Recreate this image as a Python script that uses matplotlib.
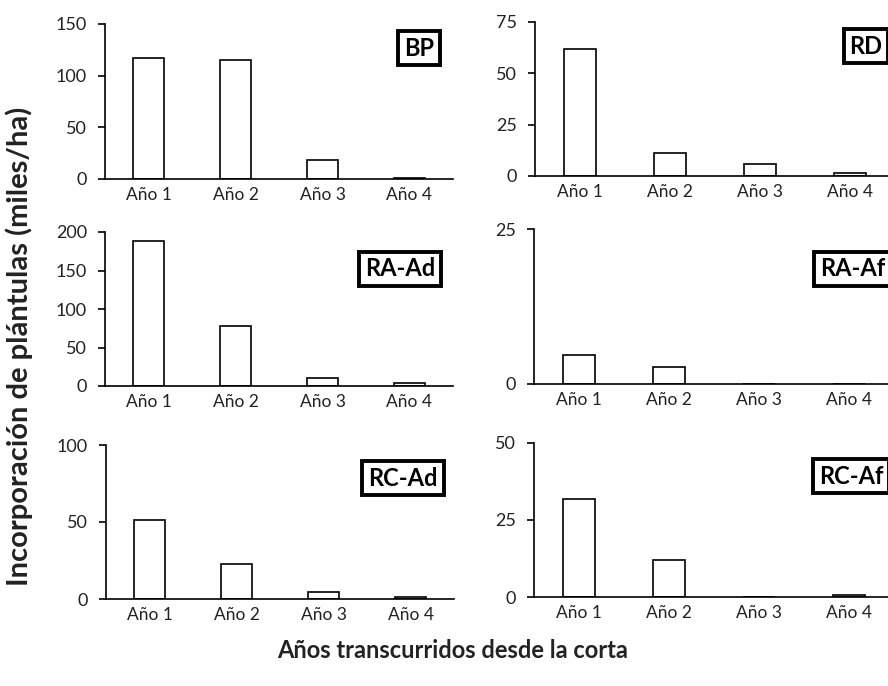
import matplotlib.pyplot as plt

plt.rcParams['font.family'] = ['Lato', 'DejaVu Sans']

years = ['Año 1', 'Año 2', 'Año 3', 'Año 4']

bp = [116.8, 115.5, 18.1, 1.0]
rd = [62.0, 11.3, 5.8, 1.6]
ra_ad = [188.0, 77.7, 10.8, 3.5]
ra_af = [4.7, 2.7, 0.0, 0.0]
rc_ad = [51.3, 22.8, 4.3, 1.0]
rc_af = [31.7, 12.1, 0.0, 0.75]

# panel name, values, y max, y ticks
panels = [
    ('BP', bp, 150, [0, 50, 100, 150]),
    ('RD', rd, 75, [0, 25, 50, 75]),
    ('RA-Ad', ra_ad, 200, [0, 50, 100, 150, 200]),
    ('RA-Af', ra_af, 25, [0, 25]),
    ('RC-Ad', rc_ad, 100, [0, 50, 100]),
    ('RC-Af', rc_af, 50, [0, 25, 50]),
]

W, H = 888, 686
fig = plt.figure(figsize=(W / 100, H / 100), dpi=100)

# axes boxes in pixels: left, right, top (y max), bottom (zero)
boxes = [
    (105, 453, 24, 179),
    (535, 895, 22, 176),
    (105, 453, 232, 386),
    (534, 894, 229, 384),
    (106, 454, 445, 599),
    (534, 894, 443, 597),
]
# label box centres in pixels
label_pos = [(419, 48), (866, 46), (400, 269), (853, 269), (403, 478), (851, 476)]

for (name, vals, ymax, ticks), (l, r, t, b), (lx, ly) in zip(panels, boxes, label_pos):
    ax = fig.add_axes([l / W, 1 - b / H, (r - l) / W, (b - t) / H])
    ax.bar(range(len(years)), vals, width=0.345, color='white', edgecolor='black', linewidth=1.2)
    ax.set_xlim(-0.5, 3.5)
    ax.set_ylim(0, ymax)
    ax.set_yticks(ticks)
    ax.set_xticks(range(len(years)))
    ax.set_xticklabels(years)
    for s in ['top', 'right']:
        ax.spines[s].set_visible(False)
    ax.spines['left'].set_linewidth(1.2)
    ax.spines['bottom'].set_linewidth(1.2)
    ax.tick_params(axis='y', length=5, width=1.2, pad=8, labelsize=13, labelcolor='#222222')
    ax.tick_params(axis='x', length=0, pad=6, labelsize=12.5, labelcolor='#222222')
    ax.patch.set_alpha(0)
    fig.text(lx / W, 1 - ly / H, name, ha='center', va='center', fontsize=17,
             fontweight='bold',
             bbox=dict(boxstyle='square,pad=0.25', facecolor='white', edgecolor='black', linewidth=2.8))

fig.text(19 / W, 1 - 346 / H, 'Incorporación de plántulas (miles/ha)', rotation=90,
         ha='center', va='center', fontsize=21, fontweight='bold', color='#222222')
fig.text(453 / W, 1 - 650 / H, 'Años transcurridos desde la corta',
         ha='center', va='center', fontsize=17, fontweight='bold', color='#222222')

fig.savefig('out.png', dpi=100)
